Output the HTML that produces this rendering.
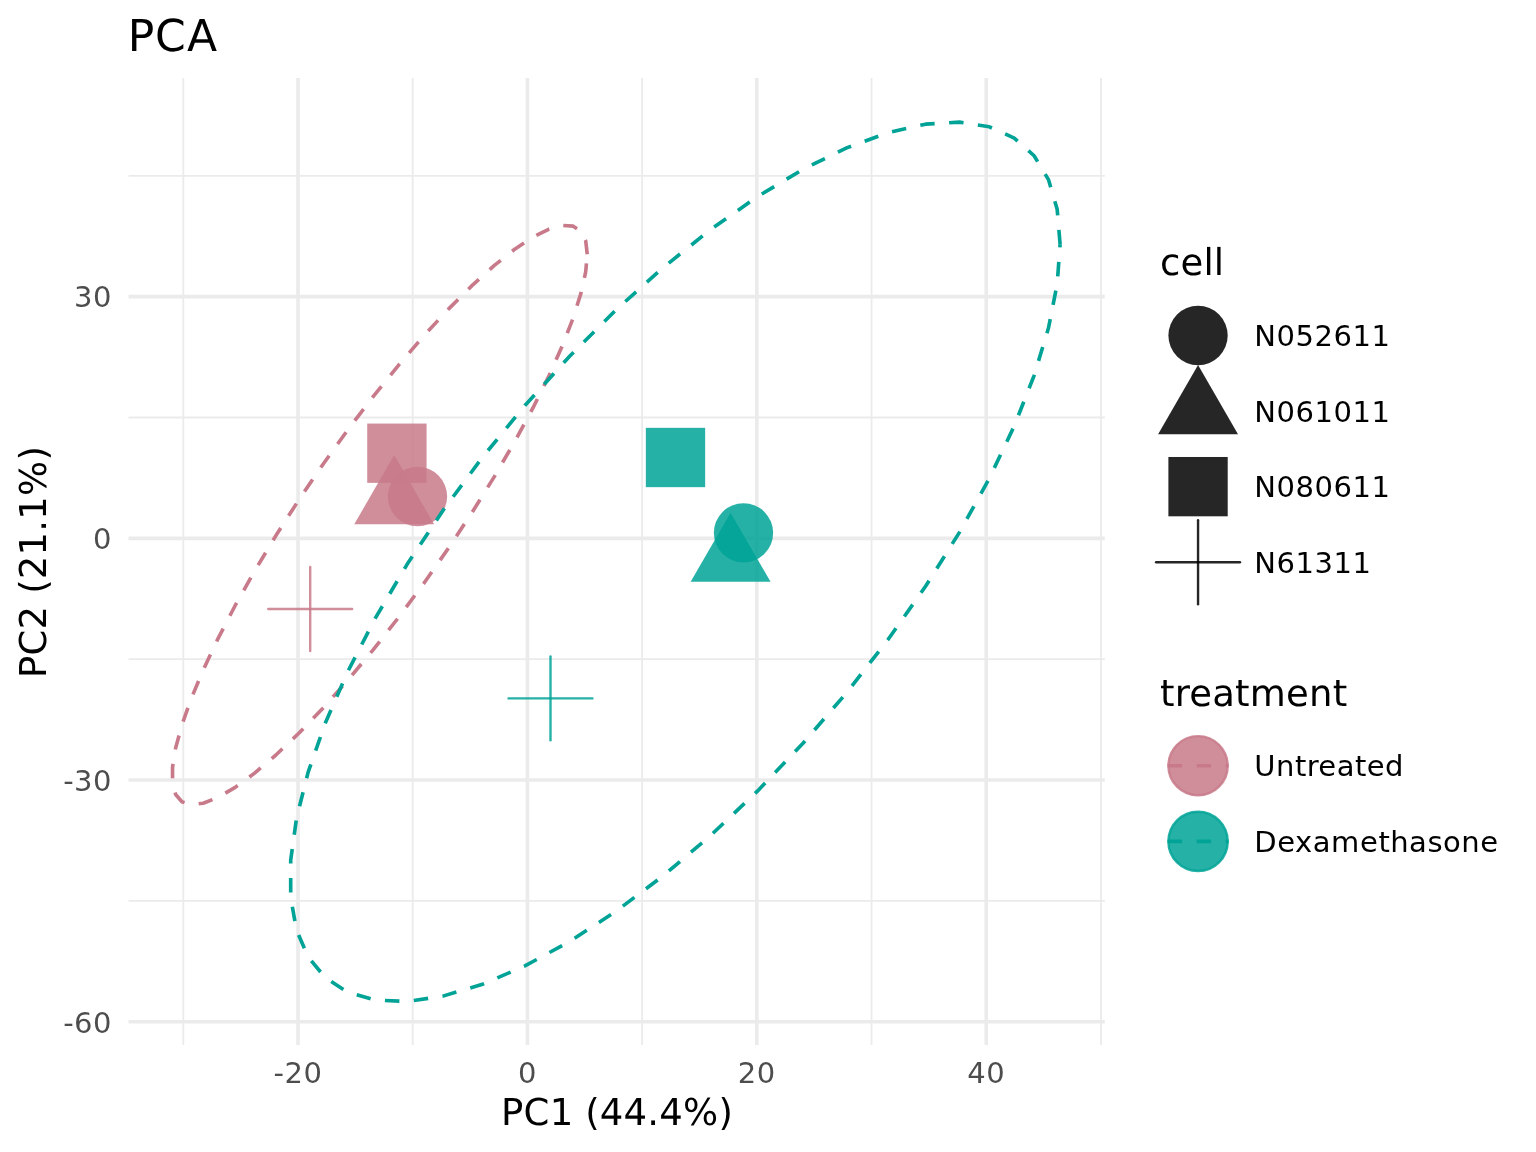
<!DOCTYPE html>
<html><head><meta charset="utf-8"><title>PCA</title>
<style>html,body{margin:0;padding:0;background:#fff;}svg{display:block;will-change:transform;}text{font-family:"DejaVu Sans","Liberation Sans",sans-serif;}</style></head><body>
<svg width="1536" height="1152" viewBox="0 0 1536 1152">
<rect width="1536" height="1152" fill="#fff"/>
<g stroke="#EBEBEB" fill="none"><path d="M183.3 78V1045" stroke-width="1.81"/><path d="M412.72 78V1045" stroke-width="1.81"/><path d="M642.14 78V1045" stroke-width="1.81"/><path d="M871.56 78V1045" stroke-width="1.81"/><path d="M1100.98 78V1045" stroke-width="1.81"/><path d="M128.5 175.8H1104.8" stroke-width="1.81"/><path d="M128.5 417.49H1104.8" stroke-width="1.81"/><path d="M128.5 659.17H1104.8" stroke-width="1.81"/><path d="M128.5 900.86H1104.8" stroke-width="1.81"/><path d="M298.01 78V1045" stroke-width="3.621"/><path d="M527.43 78V1045" stroke-width="3.621"/><path d="M756.85 78V1045" stroke-width="3.621"/><path d="M986.27 78V1045" stroke-width="3.621"/><path d="M128.5 296.64H1104.8" stroke-width="3.621"/><path d="M128.5 538.33H1104.8" stroke-width="3.621"/><path d="M128.5 780.02H1104.8" stroke-width="3.621"/><path d="M128.5 1021.7H1104.8" stroke-width="3.621"/></g>
<rect x="367.24" y="423.54" width="59.32" height="59.32" fill="#C87A8A" fill-opacity="0.85"/>
<polygon points="394.2,455.08 434.15,524.26 354.25,524.26" fill="#C87A8A" fill-opacity="0.85"/>
<circle cx="417.5" cy="496.5" r="29.66" fill="#C87A8A" fill-opacity="0.85"/>
<path d="M268.25 609H352.15" stroke="#C87A8A" stroke-opacity="0.85" stroke-width="2.4" stroke-linecap="round" fill="none"/><path d="M310.2 567.05V650.95" stroke="#C87A8A" stroke-opacity="0.85" stroke-width="2.4" stroke-linecap="round" fill="none"/>
<rect x="645.84" y="427.84" width="59.32" height="59.32" fill="#00A396" fill-opacity="0.85"/>
<polygon points="730.6,512.68 770.55,581.86 690.65,581.86" fill="#00A396" fill-opacity="0.85"/>
<circle cx="743.5" cy="532.85" r="29.66" fill="#00A396" fill-opacity="0.85"/>
<path d="M508.55 698.4H592.45" stroke="#00A396" stroke-opacity="0.85" stroke-width="2.4" stroke-linecap="round" fill="none"/><path d="M550.5 656.45V740.35" stroke="#00A396" stroke-opacity="0.85" stroke-width="2.4" stroke-linecap="round" fill="none"/>
<path d="M587.26 254.33 L585.69 240.74 L580.99 231.31 L573.24 226.17 L562.56 225.42 L549.11 229.05 L533.09 237.02 L514.74 249.2 L494.35 265.41 L472.22 285.4 L448.68 308.87 L424.1 335.47 L398.85 364.79 L373.31 396.39 L347.86 429.78 L322.9 464.46 L298.8 499.91 L275.92 535.59 L254.62 570.96 L235.21 605.47 L217.99 638.62 L203.23 669.89 L191.14 698.81 L181.91 724.95 L175.67 747.9 L172.53 767.33 L172.53 782.92 L175.67 794.46 L181.91 801.75 L191.14 804.71 L203.23 803.26 L217.99 797.45 L235.21 787.36 L254.62 773.14 L275.92 755 L298.8 733.23 L322.9 708.14 L347.86 680.13 L373.31 649.62 L398.85 617.06 L424.1 582.96 L448.68 547.82 L472.22 512.19 L494.35 476.6 L514.74 441.59 L533.09 407.7 L549.11 375.43 L562.56 345.28 L573.24 317.69 L580.99 293.1 L585.69 271.87 L587.26 254.33" fill="none" stroke="#C87A8A" stroke-width="3.62" stroke-dasharray="14.49 14.49" stroke-linejoin="round"/>
<path d="M1060.09 244.22 L1057.17 209.24 L1048.46 179.6 L1034.09 155.76 L1014.27 138.07 L989.31 126.81 L959.59 122.14 L925.56 124.14 L887.72 132.78 L846.66 147.92 L803 169.33 L757.4 196.7 L710.55 229.6 L663.17 267.54 L615.96 309.94 L569.65 356.16 L524.93 405.5 L482.49 457.21 L442.97 510.51 L406.97 564.59 L375.03 618.62 L347.64 671.79 L325.21 723.3 L308.08 772.37 L296.52 818.24 L290.69 860.22 L290.69 897.68 L296.52 930.06 L308.08 956.85 L325.21 977.65 L347.64 992.15 L375.03 1000.13 L406.97 1001.47 L442.97 996.14 L482.49 984.23 L524.93 965.92 L569.65 941.48 L615.96 911.29 L663.17 875.8 L710.55 835.55 L757.4 791.16 L803 743.29 L846.66 692.66 L887.72 640.06 L925.56 586.27 L959.59 532.12 L989.31 478.41 L1014.27 425.97 L1034.09 375.59 L1048.46 328.03 L1057.17 284.02 L1060.09 244.22" fill="none" stroke="#00A396" stroke-width="3.62" stroke-dasharray="14.49 14.49" stroke-linejoin="round"/>
<text x="74.09 93.1" y="307.44" font-size="29" fill="#4D4D4D">30</text>
<text x="93.1" y="549.13" font-size="29" fill="#4D4D4D">0</text>
<text x="63.31 74.09 93.1" y="790.82" font-size="29" fill="#4D4D4D">-30</text>
<text x="63.31 74.09 93.1" y="1032.5" font-size="29" fill="#4D4D4D">-60</text>
<text x="273.62 284.39 303.4" y="1082.5" font-size="29" fill="#4D4D4D">-20</text>
<text x="517.93" y="1082.5" font-size="29" fill="#4D4D4D">0</text>
<text x="737.85 756.85" y="1082.5" font-size="29" fill="#4D4D4D">20</text>
<text x="967.27 986.27" y="1082.5" font-size="29" fill="#4D4D4D">40</text>
<text x="501.1 523.61 549.67 573.42 585.29 599.85 623.6 647.35 659.22 682.97 718.44" y="1125" font-size="37" fill="#000" text-rendering="geometricPrecision">PC1 (44.4%)</text>
<text transform="rotate(-90)" x="-677.95 -655.44 -629.38 -605.63 -593.76 -579.2 -555.45 -531.7 -519.83 -496.08 -460.61" y="46" font-size="37" fill="#000" text-rendering="geometricPrecision">PC2 (21.1%)</text>
<text x="127.78 155.03 186.96" y="51" font-size="44" fill="#000" text-rendering="geometricPrecision">PCA</text>
<text x="1159.9 1180.42 1203.39 1213.76" y="275" font-size="37" fill="#000" text-rendering="geometricPrecision">cell</text>
<circle cx="1198.05" cy="335.5" r="29.66" fill="#000" fill-opacity="0.85"/>
<polygon points="1198.05,364.98 1238,434.16 1158.1,434.16" fill="#000" fill-opacity="0.85"/>
<rect x="1168.39" y="456.99" width="59.32" height="59.32" fill="#000" fill-opacity="0.85"/>
<path d="M1156.1 562.25H1240" stroke="#000" stroke-opacity="0.85" stroke-width="2.4" stroke-linecap="round" fill="none"/><path d="M1198.05 520.3V604.2" stroke="#000" stroke-opacity="0.85" stroke-width="2.4" stroke-linecap="round" fill="none"/>
<text x="1254.15 1276.49 1295.5 1314.5 1333.51 1352.51 1371.52" y="346" font-size="29" fill="#000">N052611</text>
<text x="1254.15 1276.49 1295.5 1314.5 1333.51 1352.51 1371.52" y="422" font-size="29" fill="#000">N061011</text>
<text x="1254.15 1276.49 1295.5 1314.5 1333.51 1352.51 1371.52" y="497" font-size="29" fill="#000">N080611</text>
<text x="1254.15 1276.49 1295.5 1314.5 1333.51 1352.51" y="573" font-size="29" fill="#000">N61311</text>
<text x="1160.06 1174.7 1189.22 1212.19 1235.07 1249.7 1286.07 1309.03 1332.69" y="706" font-size="37" fill="#000" text-rendering="geometricPrecision">treatment</text>
<path d="M1167.65 765.75H1228.45" stroke="#C87A8A" stroke-width="3.62" stroke-dasharray="14.49 14.49" fill="none"/>
<circle cx="1198.05" cy="765.75" r="29.66" fill="#C87A8A" fill-opacity="0.85" stroke="#C87A8A" stroke-opacity="0.85" stroke-width="2.4"/>
<text x="1254.15 1276.01 1294.94 1306.66 1318.28 1336.66 1354.96 1366.67 1385.05" y="776" font-size="29" fill="#000">Untreated</text>
<path d="M1167.65 841.4H1228.45" stroke="#00A396" stroke-width="3.62" stroke-dasharray="14.49 14.49" fill="none"/>
<circle cx="1198.05" cy="841.4" r="29.66" fill="#00A396" fill-opacity="0.85" stroke="#00A396" stroke-opacity="0.85" stroke-width="2.4"/>
<text x="1254.15 1277.15 1295 1312.68 1330.98 1360.08 1378.46 1390.17 1409.1 1427.4 1442.97 1461.24 1480.17" y="852" font-size="29" fill="#000">Dexamethasone</text>
</svg></body></html>
